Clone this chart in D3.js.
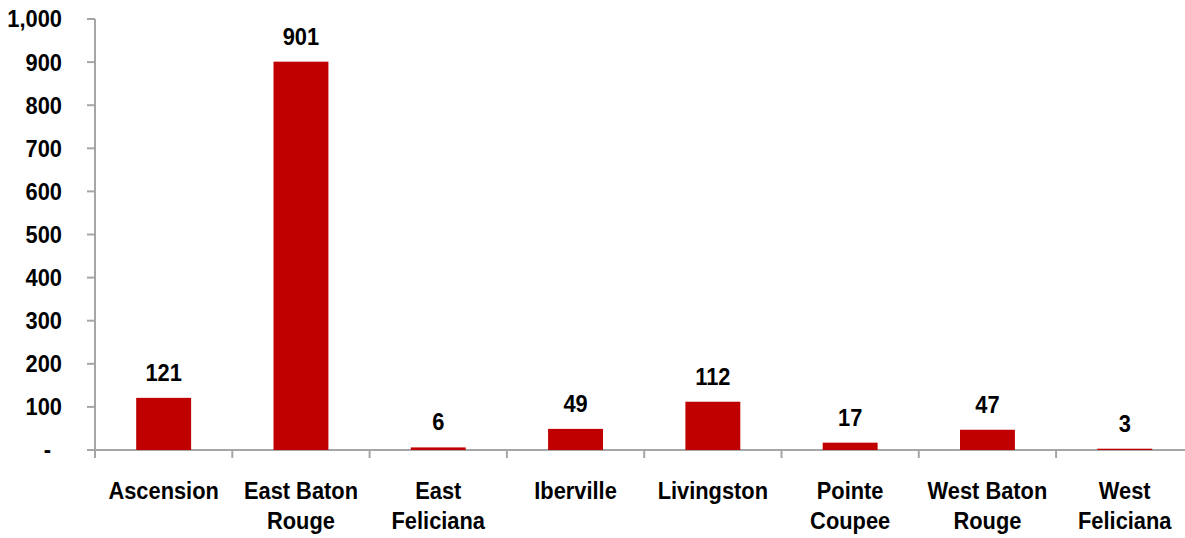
<!DOCTYPE html>
<html>
<head>
<meta charset="utf-8">
<script src="https://cdn.jsdelivr.net/npm/d3@7"></script>
<style>
  html, body { margin: 0; padding: 0; background: #fff; }
  svg text { font-family: "Liberation Sans Narrow", "Arial Narrow", "Liberation Sans", sans-serif; font-weight: bold; fill: #000; font-size: 24px; }
</style>
</head>
<body>
<svg id="chart" width="1185" height="538"></svg>
<script>
// Parishes of the Baton Rouge area and their counts
const categories = [
  ["Ascension"],
  ["East Baton", "Rouge"],
  ["East", "Feliciana"],
  ["Iberville"],
  ["Livingston"],
  ["Pointe", "Coupee"],
  ["West Baton", "Rouge"],
  ["West", "Feliciana"]
];
const values = [121, 901, 6, 49, 112, 17, 47, 3];
const yTicks = [0, 100, 200, 300, 400, 500, 600, 700, 800, 900, 1000];

const svg = d3.select("#chart");
const axisColor = "#a6a6a6";
const plotLeft = 95, plotTop = 19, plotBottom = 450;
const bandW = 137.3;
const plotRight = plotLeft + bandW * categories.length;
const squeeze = 0.91; // condensed lettering

const x = d3.scaleBand()
  .domain(d3.range(categories.length))
  .range([plotLeft, plotRight])
  .paddingInner(0.6)
  .paddingOuter(0.3);

const y = d3.scaleLinear().domain([0, 1000]).range([plotBottom, plotTop]);

const fmt = d3.format(",");
const place = (px, py) => `translate(${px},${py}) scale(${squeeze},1)`;

// Y axis
const yAxis = svg.append("g");
yAxis.append("line")
  .attr("x1", plotLeft).attr("x2", plotLeft)
  .attr("y1", y(1000)).attr("y2", plotBottom + 8)
  .attr("stroke", axisColor).attr("stroke-width", 2);
yAxis.selectAll("line.tick").data(yTicks).enter().append("line")
  .attr("class", "tick")
  .attr("x1", plotLeft - 8).attr("x2", plotLeft)
  .attr("y1", d => y(d)).attr("y2", d => y(d))
  .attr("stroke", axisColor).attr("stroke-width", 2);
yAxis.selectAll("text").data(yTicks).enter().append("text")
  .attr("transform", d => place(d === 0 ? 51 : 62, y(d)))
  .attr("dy", "0.35em")
  .attr("text-anchor", "end")
  .text(d => d === 0 ? "-" : fmt(d));

// X axis with category boundary ticks
const xAxis = svg.append("g");
xAxis.append("line")
  .attr("x1", plotLeft).attr("x2", 1185)
  .attr("y1", plotBottom).attr("y2", plotBottom)
  .attr("stroke", axisColor).attr("stroke-width", 2);
xAxis.selectAll("line.tick").data(d3.range(1, categories.length)).enter().append("line")
  .attr("class", "tick")
  .attr("x1", i => plotLeft + i * bandW).attr("x2", i => plotLeft + i * bandW)
  .attr("y1", plotBottom).attr("y2", plotBottom + 8)
  .attr("stroke", axisColor).attr("stroke-width", 2);

// Bars
svg.append("g").selectAll("rect").data(values).enter().append("rect")
  .attr("x", (d, i) => x(i))
  .attr("width", x.bandwidth())
  .attr("y", d => y(d))
  .attr("height", d => plotBottom - y(d))
  .attr("fill", "#c00000");

// Value labels
svg.append("g").selectAll("text").data(values).enter().append("text")
  .attr("transform", (d, i) => place(x(i) + x.bandwidth() / 2, y(d) - 17))
  .attr("text-anchor", "middle")
  .text(d => fmt(d));

// Category labels
const catG = svg.append("g").selectAll("text").data(categories).enter().append("text")
  .attr("transform", (d, i) => place(x(i) + x.bandwidth() / 2, 499))
  .attr("text-anchor", "middle");
catG.selectAll("tspan").data(d => d).enter().append("tspan")
  .attr("x", 0)
  .attr("dy", (d, j) => j === 0 ? 0 : 30)
  .text(d => d);
</script>
</body>
</html>
